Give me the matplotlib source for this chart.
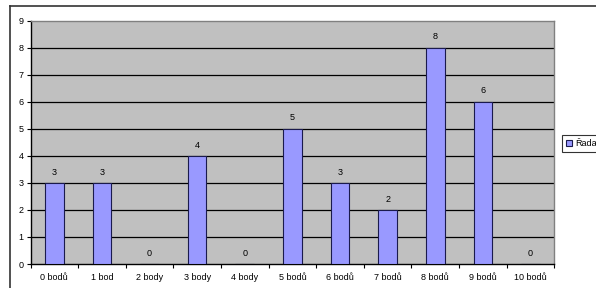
import matplotlib.pyplot as plt
import numpy as np
from matplotlib.lines import Line2D

categories = ["0 bodů", "1 bod", "2 body", "3 body", "4 body", "5 bodů",
              "6 bodů", "7 bodů", "8 bodů", "9 bodů", "10 bodů"]
values = [3, 3, 0, 4, 0, 5, 3, 2, 8, 6, 0]
series_name = "Řada"

plt.rcParams["font.family"] = ["Liberation Sans", "DejaVu Sans"]

fig = plt.figure(figsize=(5.96, 2.88), dpi=100)
ax = fig.add_axes([30.5 / 596, 24 / 288, (554.3 - 30.5) / 596, (264 - 20.5) / 288])

x = np.arange(len(categories))
bars = ax.bar(x, values, width=0.39, color="#9999FF", edgecolor="#1a1a4d",
              linewidth=0.8, zorder=3, label=series_name)

for xi, v in zip(x, values):
    ax.annotate(str(v), (xi, v), xytext=(0, 4.5), textcoords="offset points",
                ha="center", va="bottom", fontsize=6.5)

ax.set_facecolor("#C0C0C0")
ax.set_xlim(-0.5, len(categories) - 0.5)
ax.set_ylim(0, 9)
ax.set_yticks(range(0, 10))
ax.tick_params(axis="y", labelsize=6.5, length=3, width=0.8, pad=2)
ax.set_xticks(x)
ax.set_xticklabels(categories)
ax.tick_params(axis="x", which="major", length=0, labelsize=6.5, pad=6.5)
ax.set_xticks(np.arange(-0.5, len(categories)), minor=True)
ax.tick_params(axis="x", which="minor", length=3, width=0.8)

for y in range(1, 9):
    ax.axhline(y, color="black", linewidth=0.9, zorder=1)

ax.spines["left"].set_color("black")
ax.spines["bottom"].set_color("black")
ax.spines["top"].set_color("#808080")
ax.spines["right"].set_color("#808080")
for s in ax.spines.values():
    s.set_linewidth(1.0)

leg = fig.legend(loc="center left", bbox_to_anchor=(561.5 / 596, 1 - 143.5 / 288),
                 fontsize=6.5, frameon=True, fancybox=False, edgecolor="black",
                 handlelength=0.7, handleheight=0.7, handletextpad=0.4,
                 borderpad=0.45, borderaxespad=0)
leg.get_frame().set_linewidth(0.8)

# outer chart border (only left and top visible)
fig.add_artist(Line2D([10 / 596, 10 / 596], [0, 1 - 5.5 / 288],
                      transform=fig.transFigure, color="#333333", linewidth=1.2))
fig.add_artist(Line2D([10 / 596, 1], [1 - 5.5 / 288, 1 - 5.5 / 288],
                      transform=fig.transFigure, color="#333333", linewidth=1.2))

fig.savefig("out.png", dpi=100)
